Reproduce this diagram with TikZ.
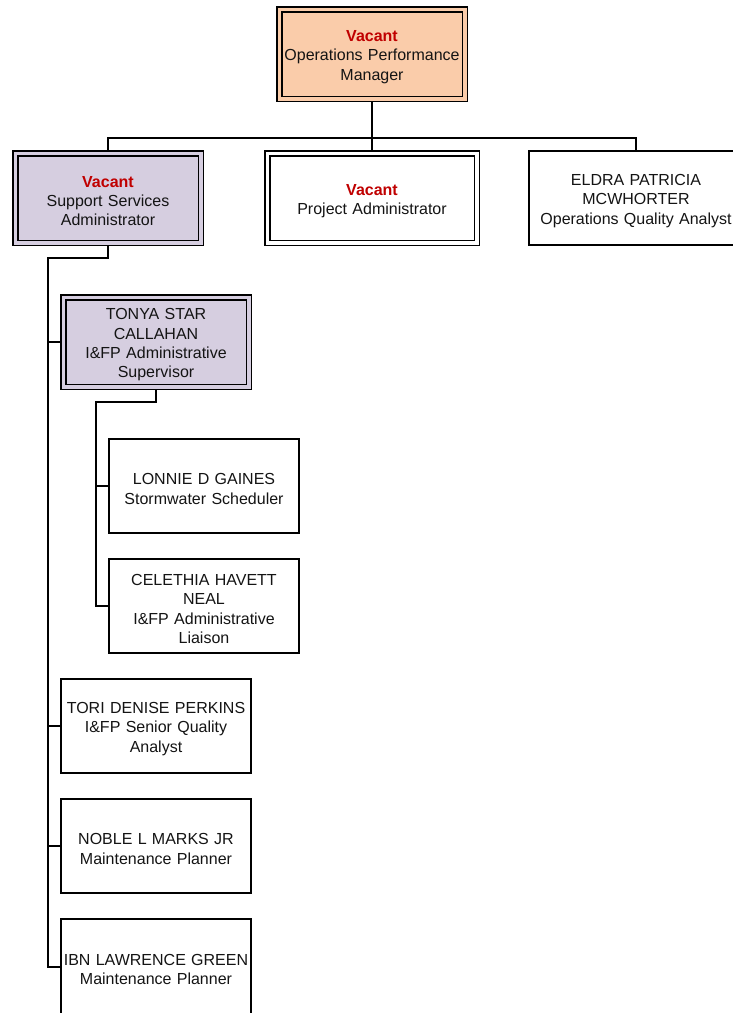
\documentclass[tikz,border=0pt]{standalone}
\usepackage{fontspec}
\setmainfont{Liberation Sans}
\usetikzlibrary{positioning}

\definecolor{peach}{RGB}{250,204,170}
\definecolor{lavender}{RGB}{214,206,224}
\definecolor{vacred}{RGB}{192,0,0}
\definecolor{ink}{RGB}{20,20,20}

\newcommand{\vacant}{{\color{vacred}\bfseries Vacant}}

\begin{document}
\begin{tikzpicture}[
    x=1pt, y=1pt,
    font=\fontsize{16}{19.3}\selectfont,
    execute at begin node={\rule{0pt}{17pt}},
    person/.style={rectangle, draw, line width=1.6pt, fill=white, text=ink, text width=188pt, align=center, inner sep=0pt, minimum width=190.4pt, minimum height=94.4pt},
    wideperson/.style={person, minimum width=214.4pt, text width=212pt},
    dblbox/.style={rectangle, draw, line width=1.5pt, double=#1, double distance=3.5pt, fill=#1, text=ink, text width=184pt, align=center, inner sep=0pt, outer sep=3.25pt, minimum width=185.5pt, minimum height=89.5pt},
    dblbox/.default=white,
    link/.style={line width=1.6pt}
]
\useasboundingbox (0,0) rectangle (732,-1013);

% Top of the chart
\node[dblbox=peach] (mgr) at (372,-54) {\vacant\\Operations Performance\\Manager};

% Second row
\node[dblbox, minimum width=209.5pt, below=48pt of mgr] (proj) {\vacant\\Project Administrator};
\node[dblbox=lavender, left=60pt of proj] (ssa) {\vacant\\Support Services\\Administrator};
\node[wideperson, right=48pt of proj] (eldra) {ELDRA PATRICIA\\MCWHORTER\\Operations Quality Analyst};

% Support services branch
\node[dblbox=lavender, below=48pt of ssa, xshift=48pt] (tonya) {TONYA STAR\\CALLAHAN\\I\&FP Administrative\\Supervisor};
\node[person, below=48pt of tonya, xshift=48pt] (lonnie) {LONNIE D GAINES\\Stormwater Scheduler};
\node[person, below=24pt of lonnie] (celethia) {CELETHIA HAVETT\\NEAL\\I\&FP Administrative\\Liaison};
\node[person, below=24pt of celethia, xshift=-48pt] (tori) {TORI DENISE PERKINS\\I\&FP Senior Quality\\Analyst};
\node[person, below=24pt of tori] (noble) {NOBLE L MARKS JR\\Maintenance Planner};
\node[person, below=24pt of noble, minimum height=96pt] (ibn) {IBN LAWRENCE GREEN\\Maintenance Planner};

% Connectors
\coordinate[above=12pt of proj.north] (hub);
\draw[link] (mgr.south) -- (proj.north);
\draw[link] (ssa.north) |- (hub) -| (eldra.north);

\draw[link] (ssa.south) -- ++(0,-12) -| ([xshift=-12pt]noble.west |- ibn.west) -- (ibn.west);
\foreach \n in {tonya,tori,noble}
  \draw[link] (\n.west) -- ++(-12,0);

\draw[link] (tonya.south) -- ++(0,-12) -| ([xshift=-12pt]celethia.west) -- (celethia.west);
\draw[link] (lonnie.west) -- ++(-12,0);

\end{tikzpicture}
\end{document}
